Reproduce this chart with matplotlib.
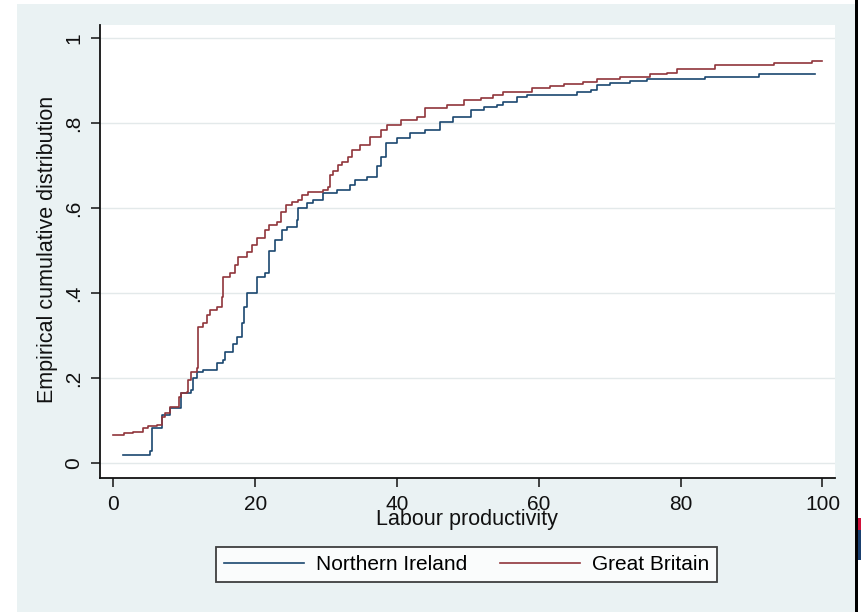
import matplotlib
matplotlib.use("Agg")
import matplotlib.pyplot as plt
from matplotlib.patches import Rectangle
from matplotlib.lines import Line2D

# Empirical CDF step points (x = labour productivity, y = cumulative share)
ni_x = [1.4, 5.2, 5.5, 6.9, 8.0, 9.5, 10.9, 11.3, 11.8, 12.7, 14.6, 15.5, 15.8,
        16.9, 17.4, 18.1, 18.4, 18.8, 20.3, 21.4, 21.9, 22.8, 23.8, 24.5, 25.9,
        26.1, 27.3, 28.2, 29.6, 31.5, 33.4, 34.1, 35.8, 37.2, 37.7, 38.4, 40.0,
        41.9, 44.0, 46.1, 47.9, 50.4, 52.2, 54.1, 55.0, 56.9, 58.3, 62.6, 65.4,
        67.3, 68.2, 70.1, 72.9, 75.3, 83.5, 91.0, 99.0]
ni_y = [0.019, 0.028, 0.082, 0.113, 0.130, 0.165, 0.172, 0.200, 0.215, 0.219,
        0.235, 0.242, 0.262, 0.280, 0.297, 0.329, 0.368, 0.400, 0.438, 0.447,
        0.500, 0.525, 0.548, 0.556, 0.572, 0.600, 0.612, 0.619, 0.635, 0.642,
        0.654, 0.666, 0.674, 0.700, 0.720, 0.753, 0.765, 0.776, 0.784, 0.803,
        0.814, 0.831, 0.837, 0.842, 0.850, 0.862, 0.866, 0.866, 0.874, 0.878,
        0.889, 0.895, 0.899, 0.903, 0.909, 0.915, 0.915]

gb_x = [0.0, 1.45, 2.8, 4.2, 4.9, 6.1, 6.9, 7.3, 8.0, 9.2, 9.5, 10.4, 10.6,
        10.9, 11.8, 12.0, 12.7, 13.2, 13.7, 14.6, 15.3, 15.5, 16.5, 17.2, 17.6,
        18.8, 19.5, 20.3, 21.4, 21.9, 23.1, 23.6, 24.3, 25.2, 26.1, 26.6, 27.5,
        29.6, 30.3, 30.6, 31.0, 31.7, 32.2, 33.1, 33.6, 34.8, 36.2, 37.7, 38.6,
        40.5, 42.8, 44.0, 47.0, 49.4, 51.8, 53.6, 55.0, 59.0, 61.6, 63.5, 66.3,
        68.2, 71.5, 75.7, 78.1, 79.5, 84.9, 93.1, 98.5, 99.9]
gb_y = [0.066, 0.070, 0.074, 0.082, 0.087, 0.089, 0.109, 0.117, 0.132, 0.156,
        0.165, 0.168, 0.195, 0.215, 0.223, 0.321, 0.329, 0.348, 0.360, 0.368,
        0.391, 0.438, 0.447, 0.466, 0.485, 0.497, 0.513, 0.529, 0.548, 0.560,
        0.568, 0.591, 0.607, 0.615, 0.619, 0.631, 0.638, 0.642, 0.650, 0.678,
        0.686, 0.701, 0.709, 0.720, 0.736, 0.748, 0.767, 0.784, 0.795, 0.807,
        0.815, 0.835, 0.842, 0.854, 0.858, 0.866, 0.874, 0.882, 0.886, 0.892,
        0.897, 0.903, 0.909, 0.915, 0.918, 0.928, 0.937, 0.941, 0.946, 0.946]

x_ticks = [0, 20, 40, 60, 80, 100]
y_ticks = [0, 0.2, 0.4, 0.6, 0.8, 1.0]
y_tick_labels = ["0", ".2", ".4", ".6", ".8", "1"]
series_names = ["Northern Ireland", "Great Britain"]

plt.rcParams['font.family'] = ['Liberation Sans', 'DejaVu Sans']

W, H = 861, 612
fig = plt.figure(figsize=(W / 100, H / 100), dpi=100)
fig.patch.set_facecolor('white')

# graph region background
fig.add_artist(Rectangle((17 / W, 0), (855 - 17) / W, (H - 4) / H,
                         transform=fig.transFigure, facecolor='#eaf2f3',
                         edgecolor='none', zorder=-10))
fig.add_artist(Rectangle((855 / W, 0), 2.5 / W, 1, transform=fig.transFigure,
                         facecolor='black', edgecolor='none', zorder=-9))
fig.add_artist(Rectangle((858 / W, (H - 530) / H), 3 / W, 12 / H,
                         transform=fig.transFigure, facecolor='#d0103a',
                         edgecolor='none', zorder=-9))
fig.add_artist(Rectangle((858 / W, (H - 560) / H), 3 / W, 30 / H,
                         transform=fig.transFigure, facecolor='#1a3f6f',
                         edgecolor='none', zorder=-9))

left, right, top, bottom = 100, 835, 25, 478
ax = fig.add_axes([left / W, (H - bottom) / H, (right - left) / W, (bottom - top) / H])
ax.set_facecolor('white')

ni_color = '#1a476f'
gb_color = '#90353b'
ax.plot(ni_x, ni_y, drawstyle='steps-post', color=ni_color, lw=1.2, zorder=3)
ax.plot(gb_x, gb_y, drawstyle='steps-post', color=gb_color, lw=1.2, zorder=3)

px_per_x = (822.5 - 113.3) / 100
ax.set_xlim((left - 113.3) / px_per_x, (right - 113.3) / px_per_x)
px_per_y = 463 - 38
ax.set_ylim((463 - bottom) / px_per_y, 1 + (38 - top) / px_per_y)

ax.set_xticks(x_ticks)
ax.set_xticklabels([str(t) for t in x_ticks])
ax.set_yticks(y_ticks)
ax.set_yticklabels(y_tick_labels, rotation=90, va='center')

ax.grid(axis='y', color='#e3e9ea', lw=1.0, zorder=0)
ax.set_axisbelow(True)
for s in ['top', 'right']:
    ax.spines[s].set_visible(False)
for s in ['left', 'bottom']:
    ax.spines[s].set_color('#111111')
    ax.spines[s].set_linewidth(1.3)
ax.tick_params(axis='both', direction='out', length=6.5, width=1.1, color='#111111',
               labelsize=15, labelcolor='#111111')
ax.tick_params(axis='x', pad=5.5)
ax.tick_params(axis='y', pad=5.5)

fig.text(467 / W, 1 - 520 / H, "Labour productivity", ha='center', va='center',
         fontsize=15.5, color='#111111')
fig.text(48 / W, 1 - 249 / H, "Empirical cumulative distribution", ha='center',
         va='center', rotation=90, fontsize=15.5, color='#111111')

handles = [Line2D([], [], color=ni_color, lw=1.2), Line2D([], [], color=gb_color, lw=1.2)]
leg = fig.legend(handles, series_names, ncol=2, loc='center',
                 bbox_to_anchor=(466.5 / W, 1 - 564.5 / H), fontsize=15,
                 frameon=True, fancybox=False, edgecolor='#111111',
                 handlelength=3.85, columnspacing=1.6, handletextpad=0.55,
                 borderpad=0.4)
leg.get_frame().set_linewidth(1.3)
leg.get_frame().set_facecolor('white')

fig.savefig('out.png', dpi=100, facecolor=fig.get_facecolor())
